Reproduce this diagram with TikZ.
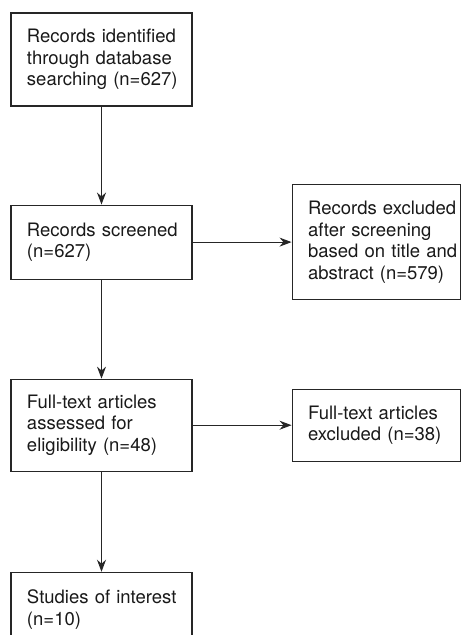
\documentclass[tikz,border=0pt]{standalone}
\usepackage{fontspec}
\setmainfont{TeX Gyre Heros}
\usetikzlibrary{arrows.meta, positioning}
\tikzset{%
	stagebox/.style={draw=black!85, line width=1.1pt, rectangle, align=left,%
		inner sep=0pt, font=\fontsize{18.5}{21.5}\selectfont, text=black!90,%
		execute at begin node={\hyphenpenalty=10000\exhyphenpenalty=10000\hbadness=10000\hfuzz=100pt}},
	leftbox/.style={stagebox, minimum width=181pt, text width=149pt},
	exclbox/.style={stagebox, minimum width=168pt, text width=136pt},
	flow/.style={-{Stealth[length=12pt, width=9pt]}, line width=1pt, draw=black!85}
}
\begin{document}
\begin{tikzpicture}[x=1pt, y=1pt]
	\useasboundingbox (0,0) rectangle (461,-635);
	\node[leftbox, minimum height=93pt] (ident) at (101.5,-59.5)
		{Records~identified\\through~database\\searching~(n=627)};
	\node[leftbox, minimum height=74pt, below=98pt of ident] (screen)
		{Records~screened\\(n=627)};
	\node[exclbox, minimum height=115pt, right=99pt of screen] (exscreen)
		{Records~excluded\\after~screening\\based~on~title~and\\abstract~(n=579)};
	\node[leftbox, minimum height=92pt, below=99pt of screen] (full)
		{Full-text~articles\\assessed~for\\eligibility~(n=48)};
	\node[exclbox, minimum height=72pt, right=99pt of full] (exfull)
		{Full-text~articles\\excluded~(n=38)};
	\node[leftbox, minimum height=74pt, below=100pt of full] (incl)
		{Studies~of~interest\\(n=10)};

	\draw[flow] (ident) to (screen);
	\draw[flow] (screen) to (exscreen);
	\draw[flow] (screen) to (full);
	\draw[flow] (full) to (exfull);
	\draw[flow] (full) to (incl);
\end{tikzpicture}
\end{document}
